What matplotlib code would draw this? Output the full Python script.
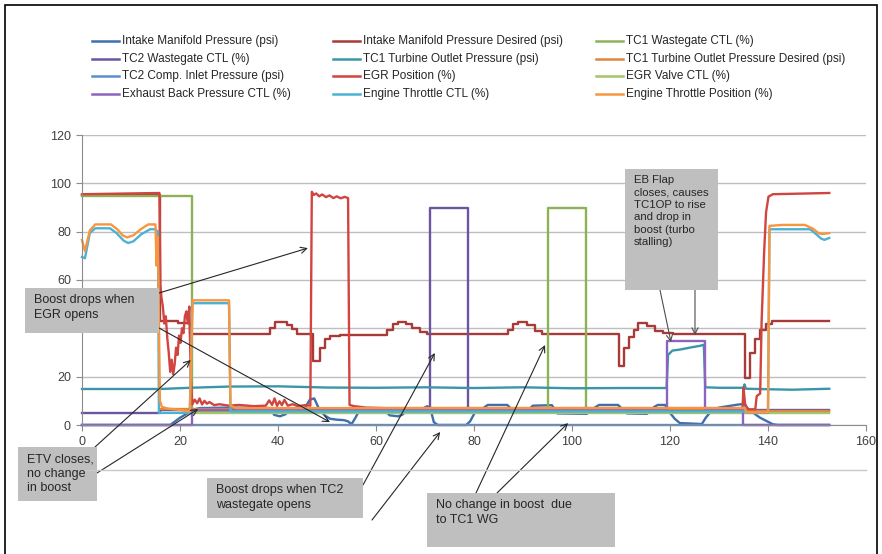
import matplotlib
matplotlib.use("Agg")
import matplotlib.pyplot as plt
from matplotlib.lines import Line2D
from matplotlib.patches import Rectangle

plt.rcParams['font.family'] = 'sans-serif'
plt.rcParams['font.sans-serif'] = ['Liberation Sans', 'DejaVu Sans']

W, H = 882, 554

# ---- series (time in s) ----
imp_t = [0, 18.0, 19.0, 20.0, 21.0, 22.0, 23.0, 24.0, 30, 38.5, 39.2, 40.4, 41.6, 42.3, 45.5, 46.5, 47.4, 48.3,
         49.5, 50.6, 52.0, 53.5, 54.3, 55.0, 55.8, 56.5, 62.0, 62.8, 64.5, 65.3, 66.2, 69.0, 70.5, 71.2, 71.8, 72.6,
         78.4, 79.2, 80.3, 81.5, 82.8, 86.8, 88.0, 91.0, 92.0, 95.9, 97.0, 103.0, 104.5, 105.5, 109.4, 111.2, 115.3,
         116.8, 117.5, 119.0, 120.0, 121.0, 122.0, 126.5, 127.3, 128.3, 130.0, 133.7, 135.0, 136.3, 138.4, 141.0,
         142.0, 152.5]
imp_y = [0, 0, 1.5, 3.0, 4.2, 5.3, 6.5, 7.0, 7.2, 7.0, 4.2, 3.6, 4.5, 6.8, 7.0, 10.5, 11.0, 7.0,
         4.0, 2.6, 2.2, 2.0, 1.5, 0.3, 3.0, 5.6, 5.6, 4.0, 3.6, 4.2, 5.6, 6.2, 7.8, 6.0, 1.2, 0,
         0, 1.5, 5.6, 6.4, 8.3, 8.3, 5.8, 6.0, 8.0, 8.2, 4.8, 4.6, 7.0, 8.3, 8.3, 4.8, 4.6,
         7.5, 8.3, 8.3, 5.0, 2.5, 0.8, 0.4, 3.0, 5.5, 7.2, 8.4, 8.7, 6.0, 3.0, 0.3,
         0, 0]

des_t = [0, 16.0, 19.5, 22.0, 38.4, 39.3, 41.9, 42.9, 43.9, 47.2, 48.6, 49.6, 50.6, 52.6, 62.3, 63.4, 64.4, 66.1,
         67.4, 68.9, 70.4, 86.9, 87.9, 88.9, 90.9, 92.4, 93.9, 109.5, 110.7, 111.7, 112.7, 113.5, 115.3, 116.9,
         118.6, 120.6, 135.3, 136.4, 137.4, 138.4, 139.5, 140.9, 152.5]
des_y = [95.2, 43.2, 42.4, 37.6, 40.0, 42.6, 41.2, 39.6, 37.6, 26.5, 32.0, 35.6, 36.8, 37.3, 39.5, 42.0, 42.8, 42.0,
         40.2, 38.6, 37.6, 39.5, 42.0, 42.8, 41.4, 39.0, 37.6, 24.5, 32.0, 36.5, 39.5, 42.4, 40.8, 39.0,
         38.0, 37.6, 19.6, 30.0, 35.6, 39.5, 42.0, 43.2, 43.2]

wg1_t = [0, 22.4, 95.1, 102.9, 152.5]
wg1_y = [94.7, 5.8, 89.9, 5.8, 5.8]

wg2_t = [0, 16.0, 71.0, 78.7, 152.5]
wg2_y = [5.0, 6.2, 89.9, 6.2, 6.2]

top_t = [0, 16, 22, 30, 40, 50, 60, 70, 80, 90, 100, 110, 119.3, 119.6, 120.5, 122, 124, 126.2, 126.9, 127.2,
         130, 135, 135.2, 135.5, 140, 145, 152.5]
top_y = [14.9, 14.9, 15.4, 15.9, 16.0, 15.5, 15.4, 15.6, 15.3, 15.6, 15.2, 15.3, 15.3, 29.0, 30.8, 31.2, 32.0,
         32.8, 33.2, 15.6, 15.4, 15.4, 16.8, 15.0, 14.8, 14.6, 15.0]

topd_t = [16.0, 135.3, 152.5]
topd_y = [6.6, 5.6, 5.6]

cip_t = [0, 152.5]
cip_y = [0, 0]

egr_t = [0, 15.8, 16.0, 16.2, 16.5, 16.8, 17.1, 17.4, 17.7, 18.0, 18.3, 18.6, 18.9, 19.2, 19.5, 19.8, 20.1, 20.4,
         20.7, 21.0, 21.3, 21.6, 21.9, 22.2, 22.5, 23.0, 23.5, 24.0, 24.5, 25.0, 25.5, 26.0, 27.0, 28.0, 30.0, 32,
         35, 37.5, 38.2, 38.8, 39.3, 39.8, 40.3, 40.8, 41.3, 42.0, 43.0, 44.0, 45.5, 46.6, 46.9, 47.3, 47.8, 48.4,
         49.0, 49.8, 50.5, 51.3, 52.0, 52.8, 53.6, 54.3, 54.6, 55.5, 58, 62, 134.8, 135.0, 135.3, 135.8, 137.4,
         137.7, 138.4, 138.7, 139.2, 139.6, 140.1, 141.0, 152.5]
egr_y = [95.5, 96, 58, 53, 49, 42, 45, 36, 30, 22, 27, 21, 25, 32, 29, 37, 34, 40,
         38, 45, 47, 42, 49, 20, 8.5, 10.5, 9, 11, 8.5, 10, 8.8, 9.5, 8.2, 8.6, 8.0, 8.3,
         7.8, 8.0, 10.2, 8.3, 11.0, 7.9, 9.8, 8.2, 10.4, 8.0, 8.6, 7.8, 8.2, 8.0, 96.5, 95.2, 95.8, 94.6,
         95.4, 94.3, 95.0, 93.9, 94.6, 93.8, 94.4, 93.9, 8.3, 7.8, 7.2, 7.0, 7.0, 15.5, 9.0, 6.5, 6.5,
         12.0, 13.0, 43, 71, 88, 94.5, 95.5, 96]

egrv_t = [22.4, 152.5]
egrv_y = [5.0, 5.0]

eb_t = [0, 22.4, 119.4, 127.1, 134.9, 152.5]
eb_y = [0, 6.2, 34.6, 6.2, 0, 0]

etc_t = [0, 0.6, 1.6, 2.7, 5.7, 7.0, 8.5, 9.4, 10.5, 12.0, 13.9, 14.9, 15.5, 15.7, 22.0, 22.5, 30.0, 30.3,
         135.3, 135.6, 140.0, 140.3, 148.6, 149.8, 150.8, 151.5, 152.5]
etc_y = [69.5, 69.0, 79.4, 81.4, 81.4, 79.5, 76.3, 75.3, 76.0, 78.8, 81.0, 81.0, 80.0, 5.0, 5.0, 50.4, 50.4, 5.6,
         5.6, 5.0, 5.0, 81.0, 81.0, 79.0, 77.2, 76.6, 77.4]

etp_t = [0, 0.6, 1.6, 2.7, 5.9, 7.2, 8.3, 9.2, 10.5, 12.0, 13.5, 15.0, 15.2, 15.4, 15.6, 15.9, 16.3, 17.5, 20.0,
         22.0, 22.3, 22.6, 30.0, 30.3, 31.5, 135.3, 135.6, 140.0, 140.3, 143.0, 147.5, 149.2, 150.3, 151.0, 152.5]
etp_y = [76.5, 72.0, 80.5, 83.0, 83.0, 81.0, 78.5, 77.6, 78.5, 81.0, 83.0, 83.0, 66.0, 78.0, 60.0, 10.0, 7.5, 6.8,
         6.2, 5.6, 30.0, 51.6, 51.6, 8.0, 7.0, 7.0, 5.2, 5.2, 82.4, 82.8, 82.8, 81.2, 79.4, 79.0, 79.4]

# legend order (row-major, 3 columns)
series = [
    ('Intake Manifold Pressure (psi)', imp_t, imp_y, '#3F6EAD', None),
    ('Intake Manifold Pressure Desired (psi)', des_t, des_y, '#A83A38', 'steps-post'),
    ('TC1 Wastegate CTL (%)', wg1_t, wg1_y, '#8DB255', 'steps-post'),
    ('TC2 Wastegate CTL (%)', wg2_t, wg2_y, '#6A56A0', 'steps-post'),
    ('TC1 Turbine Outlet Pressure (psi)', top_t, top_y, '#3A96A8', None),
    ('TC1 Turbine Outlet Pressure Desired (psi)', topd_t, topd_y, '#E0843F', 'steps-post'),
    ('TC2 Comp. Inlet Pressure (psi)', cip_t, cip_y, '#5A8ED0', None),
    ('EGR Position (%)', egr_t, egr_y, '#D0453F', None),
    ('EGR Valve CTL (%)', egrv_t, egrv_y, '#A3C56B', 'steps-post'),
    ('Exhaust Back Pressure CTL (%)', eb_t, eb_y, '#8B64C0', 'steps-post'),
    ('Engine Throttle CTL (%)', etc_t, etc_y, '#4BB2D3', None),
    ('Engine Throttle Position (%)', etp_t, etp_y, '#F7963F', None),
]

fig = plt.figure(figsize=(W / 100, H / 100), dpi=100)
L, R, T, B = 82, 866, 135, 425
ax = fig.add_axes([L / W, 1 - B / H, (R - L) / W, (B - T) / H])

lines = []
for name, t, y, c, ds in series:
    kw = {'drawstyle': ds} if ds else {}
    ln, = ax.plot(t, y, color=c, lw=1.7, clip_on=False, **kw)
    lines.append(ln)

ax.set_xlim(0, 160)
ax.set_ylim(0, 120)
ax.set_xticks(range(0, 161, 20))
ax.set_yticks(range(0, 121, 20))
ax.yaxis.grid(True, color='#BEBEBE', lw=1)
ax.set_axisbelow(True)
for s in ['top', 'right']:
    ax.spines[s].set_visible(False)
for s in ['left', 'bottom']:
    ax.spines[s].set_color('#8C8C8C')
ax.tick_params(colors='#8C8C8C', labelcolor='#404040', labelsize=9, length=4, pad=4)

# legend, 4 rows x 3 columns
col_x = [92, 333, 596]
row_y = [41, 59, 76, 94]
for i, (name, t, y, c, ds) in enumerate(series):
    r, k = divmod(i, 3)
    x0, y0 = col_x[k], row_y[r]
    fig.add_artist(Line2D([x0 / W, (x0 + 27) / W], [1 - y0 / H, 1 - y0 / H], color=c, lw=1.8))
    fig.text((x0 + 30) / W, 1 - y0 / H, name, fontsize=8.5, color='#262626', va='center', ha='left')

# callouts: (box in pixels), text, font size
boxes = [
    ((25, 288, 159, 333), 'Boost drops when\nEGR opens', 9),
    ((18, 447, 97, 501), 'ETV closes,\nno change\nin boost', 9),
    ((207, 478, 363, 518), 'Boost drops when TC2\nwastegate opens', 9),
    ((427, 493, 615, 547), 'No change in boost  due\nto TC1 WG', 9),
    ((625, 169, 718, 290), 'EB Flap\ncloses, causes\nTC1OP to rise\nand drop in\nboost (turbo\nstalling)', 8.2),
]
for (x0, y0, x1, y1), txt, fs in boxes:
    fig.add_artist(Rectangle((x0 / W, 1 - y1 / H), (x1 - x0) / W, (y1 - y0) / H,
                             transform=fig.transFigure, facecolor='#BFBFBF', edgecolor='none'))
    fig.text((x0 + 9) / W, 1 - (y0 + 6) / H, txt, fontsize=fs, color='#262626',
             va='top', ha='left', linespacing=1.3, zorder=3)

arrows = [
    ((159, 293), (46.1, 73.2), '#262626'),
    ((159, 328), (50.6, 1.2), '#262626'),
    ((95, 447), (22.2, 26.9), '#262626'),
    ((97, 473), (23.7, 6.6), '#262626'),
    ((363, 485), (72.0, 29.8), '#262626'),
    ((372, 520), (73.1, -2.9), '#262626'),
    ((476, 493), (94.5, 33.1), '#262626'),
    ((497, 493), (99.2, 0.8), '#262626'),
    ((660, 290), (120.2, 34.3), '#4D4D4D'),
    ((695, 290), (125.1, 37.2), '#4D4D4D'),
]
for (px, py), head, c in arrows:
    ax.annotate('', xy=head, xycoords='data', xytext=(px / W, 1 - py / H), textcoords='figure fraction',
                arrowprops=dict(arrowstyle='->', color=c, lw=0.8, shrinkA=0, shrinkB=0, mutation_scale=11),
                annotation_clip=False, zorder=5)

# chart frame
fig.add_artist(Line2D([L / W, R / W], [1 - 470 / H, 1 - 470 / H], color='#C8C8C8', lw=1))
fig.add_artist(Rectangle((5 / W, -0.05), 872 / W, 1.05 - 5 / H, transform=fig.transFigure,
                         facecolor='none', edgecolor='black', lw=1.2))

fig.savefig('out.png', dpi=100)
